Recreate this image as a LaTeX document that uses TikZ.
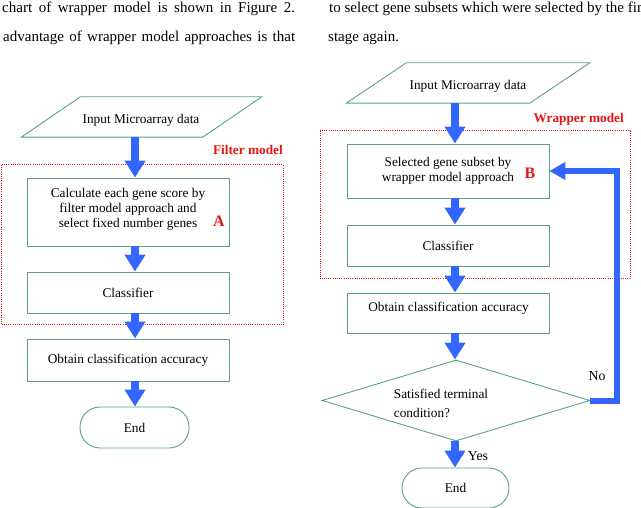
\documentclass[tikz,border=0pt]{standalone}
\usepackage{fontspec}
\setmainfont{Liberation Serif}
\usetikzlibrary{arrows.meta,shapes.geometric,calc}
\definecolor{boxgreen}{RGB}{85,165,130}
\definecolor{flowblue}{RGB}{51,102,255}
\definecolor{labred}{RGB}{232,20,20}
\begin{document}
\begin{tikzpicture}[x=1pt,y=-1pt,
  box/.style={draw=boxgreen, line width=0.9pt, minimum width=202pt, inner sep=0pt, align=center, font=\fontsize{13.3}{15}\selectfont},
  endbox/.style={box, rounded corners=20pt},
  ghost/.style={inner sep=0pt, align=center, font=\fontsize{13.3}{15}\selectfont},
  para/.style={draw=boxgreen, line width=0.9pt},
  flow/.style={draw=flowblue, line width=8pt, -{Triangle[width=20pt,length=17pt]}},
  fb/.style={draw=flowblue, line width=6pt, line join=miter, -{Triangle[width=17pt,length=16pt]}},
  zone/.style={draw=labred, line width=1pt, dash pattern=on 1pt off 1.2pt},
  zonelabel/.style={text=labred, inner sep=0pt, font=\fontsize{13.3}{15}\selectfont\bfseries},
  letter/.style={text=labred, inner sep=0pt, font=\fontsize{16}{18}\selectfont\bfseries},
  body/.style={anchor=base west, inner sep=0pt, font=\fontsize{15}{18}\selectfont},
  small/.style={inner sep=0pt, font=\fontsize{13.8}{15}\selectfont}]
\useasboundingbox (0,0) rectangle (641,508);

% running text
\node[body] (t1) at (2,13) {\makebox[293pt][s]{chart of wrapper model is shown in Figure 2.}};
\node[body] (t2) at (3,42) {\makebox[292pt][s]{advantage of wrapper model approaches is that}};
\node[body] (t3) at (329,13) {to select gene subsets which were selected by the fir};
\node[body] (t4) at (328,42) {stage again.};

% ---------------- left: filter model ----------------
\coordinate (axL) at (135,0);
\draw[zone] (1,165) rectangle (283,325);
\node[zonelabel, anchor=base east] (fl) at (283,155) {Filter model};

\node[ghost, minimum width=181pt, minimum height=40pt] (inL) at (141.5,117) {};
\draw[para] ($(inL.north west)+(29.5,0)$) -- ($(inL.north east)+(29.5,0)$)
  -- ($(inL.south east)-(29.5,0)$) -- ($(inL.south west)-(29.5,0)$) -- cycle;
\node[ghost] (inLt) at (141,120) {Input Microarray data};

\node[box, minimum height=68pt] (b1) at (128,212) {Calculate each gene score by\\filter model approach and\\select fixed number genes\\[-6pt]};
\node[letter] (lA) at (219,221) {A};
\node[box, minimum height=41pt] (c1) at (128,292.5) {Classifier};
\node[box, minimum height=42pt] (o1) at (128,360) {Obtain classification accuracy};
\node[endbox, minimum width=109pt, minimum height=41pt] (e1) at (134.5,427.5) {End};

\draw[flow] (inL.south -| axL) -- (b1.north -| axL);
\draw[flow] (b1.south -| axL) -- (c1.north -| axL);
\draw[flow] (c1.south -| axL) -- (o1.north -| axL);
\draw[flow] (o1.south -| axL) -- (e1.north -| axL);

% ---------------- right: wrapper model ----------------
\coordinate (axR) at (455,0);
\draw[zone] (320,131) rectangle (630,279);
\node[zonelabel, anchor=base east] (wl) at (624,123) {Wrapper model};

\node[ghost, minimum width=183pt, minimum height=40pt] (inR) at (468,83) {};
\draw[para] ($(inR.north west)+(30,0)$) -- ($(inR.north east)+(30,0)$)
  -- ($(inR.south east)-(30,0)$) -- ($(inR.south west)-(30,0)$) -- cycle;
\node[ghost] (inRt) at (468,86) {Input Microarray data};

\node[box, minimum height=54pt] (s2) at (448,171) {Selected gene subset by\\wrapper model approach};
\node[letter] (lB) at (530,173) {B};
\node[box, minimum height=41pt] (c2) at (448,245.5) {Classifier};
\node[box, minimum height=40pt] (o2) at (448.5,313) {Obtain classification accuracy\\[-3pt]};
\node[draw=boxgreen, line width=0.9pt, diamond, minimum width=268pt, minimum height=81pt, inner sep=0pt] (d2) at (456,400.5) {};
\node[ghost, align=left, font=\fontsize{13.3}{19}\selectfont] (d2t) at (441,403) {Satisfied terminal\\condition?};
\node[endbox, minimum width=107pt, minimum height=40pt] (e2) at (455.5,488) {End};

\draw[flow] (inR.south -| axR) -- (s2.north -| axR);
\draw[flow] (s2.south -| axR) -- (c2.north -| axR);
\draw[flow] (c2.south -| axR) -- (o2.north -| axR);
\draw[flow] (o2.south -| axR) -- (d2.north -| axR);
\draw[flow] (d2.south -| axR) -- (e2.north -| axR);

\coordinate (fbc) at (617,300);
\draw[fb] (d2.east) -| (fbc) |- (s2.east);
\node[small] (no) at (597,376) {No};
\node[small] (yes) at (478,456) {Yes};
\end{tikzpicture}
\end{document}
